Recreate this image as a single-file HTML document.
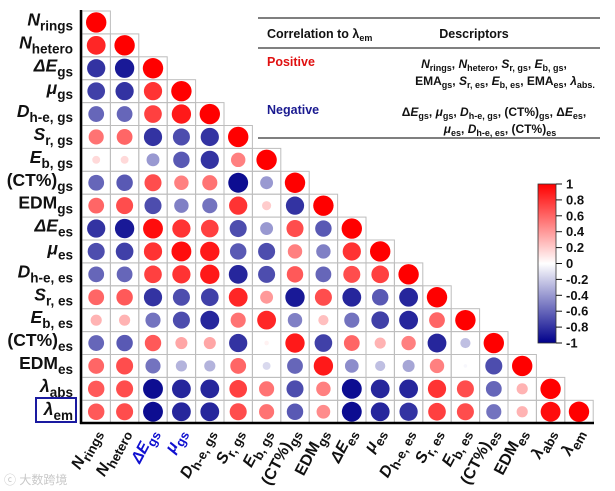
<!DOCTYPE html>
<html><head><meta charset="utf-8">
<style>
html,body{margin:0;padding:0;background:#fff;}
svg{display:block;font-family:"Liberation Sans",Arial,sans-serif;}
</style></head>
<body>
<svg id="chart" width="615" height="491" viewBox="0 0 615 491" xmlns="http://www.w3.org/2000/svg">
  <g id="grid"></g>
  <g id="circles"></g>
  <g id="rowlabels"></g>
  <g id="collabels"></g>
  <line x1="81" y1="10" x2="81" y2="424" stroke="#000" stroke-width="2.5"/>
  <line x1="80" y1="423" x2="594" y2="423" stroke="#000" stroke-width="2.5"/>
  <rect x="36" y="398" width="40" height="24" fill="none" stroke="#1a1aa0" stroke-width="2"/>

  <!-- table -->
  <g font-size="12">
    <line x1="258" y1="18" x2="600" y2="18" stroke="#555" stroke-width="1.5"/>
    <line x1="258" y1="48" x2="600" y2="48" stroke="#000" stroke-width="1"/>
    <line x1="258" y1="138" x2="600" y2="138" stroke="#555" stroke-width="1.5"/>
    <text x="267" y="38" font-weight="bold" fill="#111" font-size="12.5">Correlation to λ<tspan font-size="9" dy="3">em</tspan></text>
    <text x="474" y="38" font-weight="bold" fill="#111" font-size="12.5" text-anchor="middle">Descriptors</text>
    <text x="267" y="66" font-weight="bold" font-size="12.5" fill="#e01010">Positive</text>
    <text x="267" y="114" font-weight="bold" font-size="12.5" fill="#1a1a90">Negative</text>
    <text x="494" y="68" text-anchor="middle" font-weight="bold" fill="#111"><tspan font-style="italic">N</tspan><tspan font-size="9" dy="3">rings</tspan><tspan dy="-3">, </tspan><tspan font-style="italic">N</tspan><tspan font-size="9" dy="3">hetero</tspan><tspan dy="-3">, </tspan><tspan font-style="italic">S</tspan><tspan font-size="9" dy="3">r, gs</tspan><tspan dy="-3">, </tspan><tspan font-style="italic">E</tspan><tspan font-size="9" dy="3">b, gs</tspan><tspan dy="-3">,</tspan></text>
    <text x="505" y="85" text-anchor="middle" font-weight="bold" fill="#111">EMA<tspan font-size="9" dy="3">gs</tspan><tspan dy="-3">, </tspan><tspan font-style="italic">S</tspan><tspan font-size="9" dy="3">r, es</tspan><tspan dy="-3">, </tspan><tspan font-style="italic">E</tspan><tspan font-size="9" dy="3">b, es</tspan><tspan dy="-3">, EMA</tspan><tspan font-size="9" dy="3">es</tspan><tspan dy="-3">, </tspan><tspan font-style="italic">λ</tspan><tspan font-size="9" dy="3">abs.</tspan></text>
    <text x="494" y="116" text-anchor="middle" font-weight="bold" fill="#111">Δ<tspan font-style="italic">E</tspan><tspan font-size="9" dy="3">gs</tspan><tspan dy="-3">, </tspan><tspan font-style="italic">μ</tspan><tspan font-size="9" dy="3">gs</tspan><tspan dy="-3">, </tspan><tspan font-style="italic">D</tspan><tspan font-size="9" dy="3">h-e, gs</tspan><tspan dy="-3">, (CT%)</tspan><tspan font-size="9" dy="3">gs</tspan><tspan dy="-3">, Δ</tspan><tspan font-style="italic">E</tspan><tspan font-size="9" dy="3">es</tspan><tspan dy="-3">,</tspan></text>
    <text x="500" y="133" text-anchor="middle" font-weight="bold" fill="#111"><tspan font-style="italic">μ</tspan><tspan font-size="9" dy="3">es</tspan><tspan dy="-3">, </tspan><tspan font-style="italic">D</tspan><tspan font-size="9" dy="3">h-e, es</tspan><tspan dy="-3">, (CT%)</tspan><tspan font-size="9" dy="3">es</tspan></text>
  </g>

  <defs>
    <linearGradient id="cbgrad" x1="0" y1="0" x2="0" y2="1">
      <stop offset="0" stop-color="#ff0000"/>
      <stop offset="0.5" stop-color="#ffffff"/>
      <stop offset="1" stop-color="#00008b"/>
    </linearGradient>
  </defs>
  <g id="colorbar">
    <rect x="538" y="184" width="18" height="159" fill="url(#cbgrad)" stroke="#333" stroke-width="0.8"/>
  </g>
  <text x="4" y="484" font-size="12" fill="#c8c8c8" font-family="Liberation Sans, Noto Sans CJK SC, sans-serif">ⓒ 大数跨境</text>
</svg>
<script>
const NS='http://www.w3.org/2000/svg';
const varMain=['N','N','E','μ','D','S','E','(CT%)','EDM','E','μ','D','S','E','(CT%)','EDM','λ','λ'];
const varSub=['rings','hetero','gs','gs','h-e, gs','r, gs','b, gs','gs','gs','es','es','h-e, es','r, es','b, es','es','es','abs','em'];
const varItalic=[1,1,1,1,1,1,1,0,0,1,1,1,1,1,0,0,1,1];
const varDelta=[0,0,1,0,0,0,0,0,0,1,0,0,0,0,0,0,0,0];
const xBlue=[0,0,1,1,0,0,0,0,0,0,0,0,0,0,0,0,0,0];
const corrRows=[
 [],
 [0.85],
 [-0.8,-0.9],
 [-0.75,-0.8,0.8],
 [-0.6,-0.6,0.75,0.9],
 [0.55,0.6,-0.8,-0.7,-0.8],
 [0.15,0.15,-0.4,-0.65,-0.8,0.5],
 [-0.6,-0.65,0.7,0.5,0.55,-0.95,-0.4],
 [0.6,0.7,-0.7,-0.5,-0.55,0.8,0.2,-0.8],
 [-0.8,-0.9,0.95,0.8,0.75,-0.7,-0.4,0.7,-0.65],
 [-0.7,-0.75,0.8,0.95,0.9,-0.65,-0.7,0.5,-0.5,0.8],
 [-0.6,-0.6,0.75,0.8,0.9,-0.85,-0.7,0.65,-0.6,0.7,0.75],
 [0.6,0.65,-0.8,-0.7,-0.75,0.85,0.4,-0.9,0.7,-0.85,-0.65,-0.85],
 [0.3,0.3,-0.55,-0.7,-0.85,0.55,0.85,-0.5,0.25,-0.55,-0.75,-0.85,0.6],
 [-0.6,-0.65,0.65,0.35,0.35,-0.8,0.05,0.9,-0.75,0.6,0.3,0.5,-0.85,-0.25],
 [0.6,0.7,-0.55,-0.3,-0.3,0.6,-0.15,-0.6,0.9,-0.45,-0.25,-0.35,0.5,-0.03,-0.7],
 [0.65,0.7,-0.95,-0.85,-0.85,0.75,0.55,-0.7,0.5,-0.95,-0.85,-0.85,0.8,0.7,-0.6,0.3],
 [0.65,0.7,-0.95,-0.85,-0.85,0.7,0.55,-0.65,0.45,-0.95,-0.85,-0.8,0.75,0.7,-0.55,0.3,0.95]
];
const cbTicks=[1,0.8,0.6,0.4,0.2,0,-0.2,-0.4,-0.6,-0.8,-1];

const X0=82, CW=28.4, Y0=11, CH=22.9, RMAX=10.2;
const xOf=c=>X0+CW*c+CW/2;
const yOf=r=>Y0+CH*r+CH/2;
function colorOf(v){
  const t=Math.min(1,Math.abs(v));
  if(v>=0){return `rgb(255,${Math.round(255*(1-t))},${Math.round(255*(1-t))})`;}
  return `rgb(${Math.round(255*(1-t))},${Math.round(255*(1-t))},${Math.round(255-(255-139)*t)})`;
}
const grid=document.getElementById('grid');
const circ=document.getElementById('circles');
const n=varMain.length;
for(let i=0;i<n;i++){
  const vals=corrRows[i].concat([1]);
  for(let j=0;j<=i;j++){
    const r=document.createElementNS(NS,'rect');
    r.setAttribute('x',X0+CW*j);r.setAttribute('y',Y0+CH*i);
    r.setAttribute('width',CW);r.setAttribute('height',CH);
    r.setAttribute('fill','none');r.setAttribute('stroke','#bdbdbd');r.setAttribute('stroke-width','1');
    
    
    grid.appendChild(r);
    const v=vals[j];
    const c=document.createElementNS(NS,'circle');
    c.setAttribute('cx',xOf(j));c.setAttribute('cy',yOf(i));
    c.setAttribute('r',RMAX*Math.sqrt(Math.abs(v)));
    c.setAttribute('fill',colorOf(v));
    
    
    circ.appendChild(c);
  }
}
function fillLabel(t,i,mainSize,subSize){
  if(varDelta[i]){const d=document.createElementNS(NS,'tspan');d.setAttribute('font-style','italic');d.textContent='Δ';t.appendChild(d);}
  const m=document.createElementNS(NS,'tspan');
  if(varItalic[i])m.setAttribute('font-style','italic');
  m.textContent=varMain[i];t.appendChild(m);
  const s=document.createElementNS(NS,'tspan');
  s.setAttribute('font-size',subSize);s.setAttribute('dy',5);
  s.textContent=varSub[i];t.appendChild(s);
}
const rl=document.getElementById('rowlabels');
for(let i=0;i<n;i++){
  const t=document.createElementNS(NS,'text');
  t.setAttribute('x',73);t.setAttribute('y',yOf(i)+3);
  t.setAttribute('text-anchor','end');t.setAttribute('font-weight','bold');
  t.setAttribute('font-size',17.5);t.setAttribute('fill','#111');
  
  
  fillLabel(t,i,17.5,13.5);
  rl.appendChild(t);
}
const cl=document.getElementById('collabels');
for(let j=0;j<n;j++){
  const t=document.createElementNS(NS,'text');
  const x=xOf(j)+4,y=432;
  t.setAttribute('x',x);t.setAttribute('y',y);
  t.setAttribute('transform',`rotate(-62 ${x} ${y})`);
  t.setAttribute('text-anchor','end');t.setAttribute('font-weight','bold');
  t.setAttribute('font-size',16);t.setAttribute('fill',xBlue[j]?'#1010d0':'#111');
  
  
  fillLabel(t,j,16,13);
  cl.appendChild(t);
}
const cb=document.getElementById('colorbar');
const cbTop=184,cbBot=343;
for(let k=0;k<cbTicks.length;k++){
  const v=cbTicks[k];
  const y=cbTop+(1-v)/2*(cbBot-cbTop);
  const l=document.createElementNS(NS,'line');
  l.setAttribute('x1',556);l.setAttribute('x2',562);l.setAttribute('y1',y);l.setAttribute('y2',y);
  l.setAttribute('stroke','#111');l.setAttribute('stroke-width','1');
  
  
  cb.appendChild(l);
  const t=document.createElementNS(NS,'text');
  t.setAttribute('x',566);t.setAttribute('y',y+4.5);
  t.setAttribute('font-size',13);t.setAttribute('font-weight','bold');t.setAttribute('fill','#111');
  
  
  t.textContent=String(v);
  cb.appendChild(t);
}
</script>
</body></html>
